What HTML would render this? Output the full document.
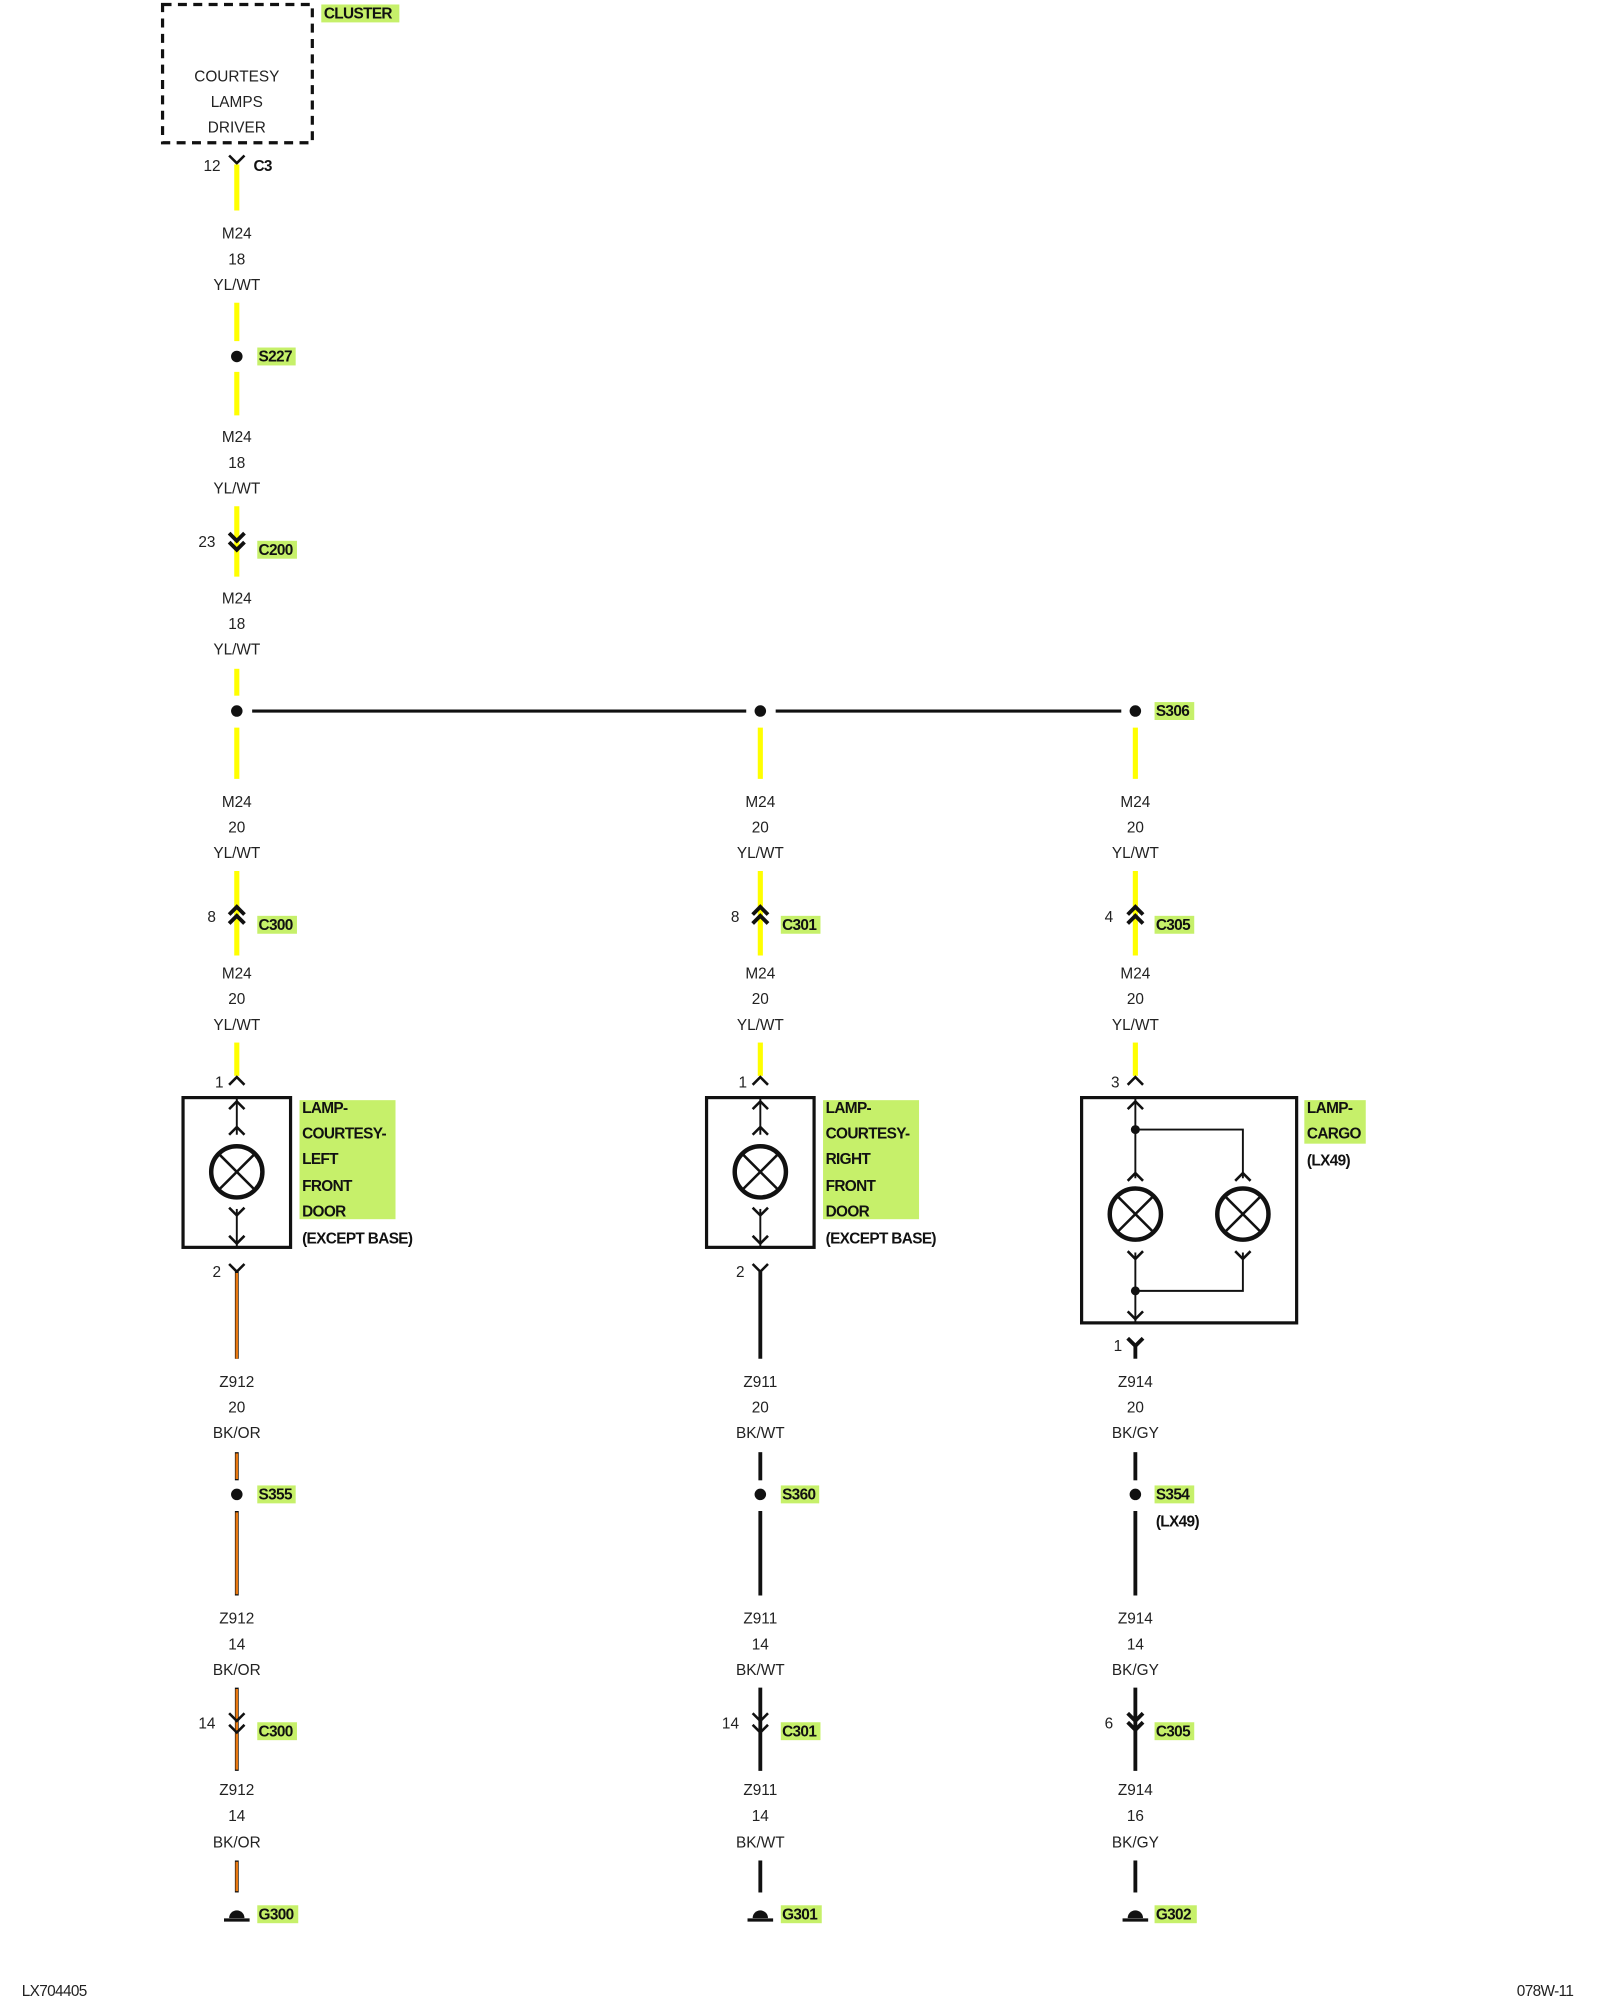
<!DOCTYPE html>
<html><head><meta charset="utf-8"><style>
html,body{margin:0;padding:0;background:#fff;}
svg{display:block;}
.t{font-family:"Liberation Sans",sans-serif;font-size:12px;fill:#222;text-anchor:middle;}
.n{font-family:"Liberation Sans",sans-serif;font-size:12px;fill:#222;}
.b{font-family:"Liberation Sans",sans-serif;font-size:12px;font-weight:bold;fill:#111;letter-spacing:-0.5px;}
.hl{fill:#c6f06a;}
.y{stroke:#ffff00;stroke-width:4;}
.k{stroke:#111;stroke-width:3;}
.o{stroke:#e87810;stroke-width:2;}
.c{stroke:#111;stroke-width:2;fill:none;}
.cb{stroke:#111;stroke-width:3;fill:none;}
</style></head><body>
<svg width="1600" height="2000" viewBox="0 0 1250 1562.5" xmlns="http://www.w3.org/2000/svg">
<defs>
<g id="lamp"><circle cx="0" cy="0" r="20" fill="none" stroke="#111" stroke-width="3.5"/><line x1="-14" y1="-14" x2="14" y2="14" stroke="#111" stroke-width="2"/><line x1="14" y1="-14" x2="-14" y2="14" stroke="#111" stroke-width="2"/></g>
<polyline id="up" points="-6,6 0,0 6,6" class="c"/>
<polyline id="dn" points="-6,-6 0,0 6,-6" class="c"/>
<polyline id="upb" points="-6,6 0,0 6,6" class="cb"/>
<polyline id="dnb" points="-6,-6 0,0 6,-6" class="cb"/>
<g id="gnd"><path d="M-6,0 A6,6 0 0 1 6,0 Z" fill="#111"/><line x1="-10" y1="1.5" x2="10" y2="1.5" stroke="#111" stroke-width="2.5"/></g>
</defs>
<g transform="translate(0,-1.5)">
<!-- cluster -->
<rect x="127" y="5" width="117" height="108" fill="none" stroke="#111" stroke-width="2.5" stroke-dasharray="7,5"/>
<rect class="hl" x="251" y="5" width="61" height="14"/>
<text class="b" x="253" y="16">CLUSTER</text>
<text class="t" x="185" y="65">COURTESY</text>
<text class="t" x="185" y="85">LAMPS</text>
<text class="t" x="185" y="105">DRIVER</text>
<text class="n" x="159" y="135">12</text>
<use href="#dn" x="185" y="129"/>
<text class="b" x="198" y="135">C3</text>

<line class="y" x1="185" y1="130" x2="185" y2="166"/>
<text class="t" x="185" y="188">M24</text><text class="t" x="185" y="208">18</text><text class="t" x="185" y="228">YL/WT</text>
<line class="y" x1="185" y1="238" x2="185" y2="268"/>
<circle cx="185" cy="280" r="4.5" fill="#111"/>
<rect class="hl" x="201" y="273" width="30" height="14"/><text class="b" x="202" y="284">S227</text>
<line class="y" x1="185" y1="292" x2="185" y2="326"/>
<text class="t" x="185" y="347">M24</text><text class="t" x="185" y="367">18</text><text class="t" x="185" y="387">YL/WT</text>
<line class="y" x1="185" y1="397" x2="185" y2="452"/>
<use href="#dnb" x="185" y="424"/><use href="#dnb" x="185" y="431"/>
<text class="n" x="155" y="429">23</text>
<rect class="hl" x="201" y="424" width="31" height="14"/><text class="b" x="202" y="435">C200</text>
<text class="t" x="185" y="473">M24</text><text class="t" x="185" y="493">18</text><text class="t" x="185" y="513">YL/WT</text>
<line class="y" x1="185" y1="524" x2="185" y2="545"/>

<circle cx="185" cy="557" r="4.5" fill="#111"/>
<circle cx="594" cy="557" r="4.5" fill="#111"/>
<circle cx="887" cy="557" r="4.5" fill="#111"/>
<line x1="197" y1="557" x2="583" y2="557" stroke="#111" stroke-width="2.5"/>
<line x1="606" y1="557" x2="876" y2="557" stroke="#111" stroke-width="2.5"/>
<rect class="hl" x="902" y="550" width="31" height="14"/><text class="b" x="903" y="561">S306</text>

<line class="y" x1="185" y1="570" x2="185" y2="610"/>
<line class="y" x1="594" y1="570" x2="594" y2="610"/>
<line class="y" x1="887" y1="570" x2="887" y2="610"/>
<text class="t" x="185" y="632">M24</text><text class="t" x="185" y="652">20</text><text class="t" x="185" y="672">YL/WT</text>
<text class="t" x="594" y="632">M24</text><text class="t" x="594" y="652">20</text><text class="t" x="594" y="672">YL/WT</text>
<text class="t" x="887" y="632">M24</text><text class="t" x="887" y="652">20</text><text class="t" x="887" y="672">YL/WT</text>
<line class="y" x1="185" y1="682" x2="185" y2="748"/>
<line class="y" x1="594" y1="682" x2="594" y2="748"/>
<line class="y" x1="887" y1="682" x2="887" y2="748"/>
<use href="#upb" x="185" y="710"/><use href="#upb" x="185" y="717"/>
<use href="#upb" x="594" y="710"/><use href="#upb" x="594" y="717"/>
<use href="#upb" x="887" y="710"/><use href="#upb" x="887" y="717"/>
<text class="n" x="162" y="722">8</text>
<text class="n" x="571" y="722">8</text>
<text class="n" x="863" y="722">4</text>
<rect class="hl" x="201" y="717" width="31" height="14"/><text class="b" x="202" y="728">C300</text>
<rect class="hl" x="610" y="717" width="31" height="14"/><text class="b" x="611" y="728">C301</text>
<rect class="hl" x="902" y="717" width="31" height="14"/><text class="b" x="903" y="728">C305</text>
<text class="t" x="185" y="766">M24</text><text class="t" x="185" y="786">20</text><text class="t" x="185" y="806">YL/WT</text>
<text class="t" x="594" y="766">M24</text><text class="t" x="594" y="786">20</text><text class="t" x="594" y="806">YL/WT</text>
<text class="t" x="887" y="766">M24</text><text class="t" x="887" y="786">20</text><text class="t" x="887" y="806">YL/WT</text>
<line class="y" x1="185" y1="816" x2="185" y2="842"/>
<line class="y" x1="594" y1="816" x2="594" y2="842"/>
<line class="y" x1="887" y1="816" x2="887" y2="842"/>
<use href="#up" x="185" y="843"/><use href="#up" x="594" y="843"/><use href="#up" x="887" y="843"/>
<text class="n" x="168" y="851">1</text>
<text class="n" x="577" y="851">1</text>
<text class="n" x="868" y="851">3</text>

<!-- left lamp -->
<rect x="143" y="859" width="84" height="117" fill="none" stroke="#111" stroke-width="2.5"/>
<line x1="185" y1="860" x2="185" y2="888" stroke="#111" stroke-width="1.5"/>
<use href="#up" x="185" y="862"/><use href="#up" x="185" y="882"/>
<use href="#lamp" x="185" y="917"/>
<use href="#dn" x="185" y="951"/>
<line x1="185" y1="946" x2="185" y2="975" stroke="#111" stroke-width="1.5"/>
<use href="#dn" x="185" y="973"/>
<rect class="hl" x="234" y="861" width="75" height="93"/>
<text class="b" x="236" y="871">LAMP-</text><text class="b" x="236" y="891">COURTESY-</text><text class="b" x="236" y="911">LEFT</text><text class="b" x="236" y="932">FRONT</text><text class="b" x="236" y="952">DOOR</text>
<text class="b" x="236" y="973">(EXCEPT BASE)</text>

<!-- middle lamp -->
<rect x="552" y="859" width="84" height="117" fill="none" stroke="#111" stroke-width="2.5"/>
<line x1="594" y1="860" x2="594" y2="888" stroke="#111" stroke-width="1.5"/>
<use href="#up" x="594" y="862"/><use href="#up" x="594" y="882"/>
<use href="#lamp" x="594" y="917"/>
<use href="#dn" x="594" y="951"/>
<line x1="594" y1="946" x2="594" y2="975" stroke="#111" stroke-width="1.5"/>
<use href="#dn" x="594" y="973"/>
<rect class="hl" x="643" y="861" width="75" height="93"/>
<text class="b" x="645" y="871">LAMP-</text><text class="b" x="645" y="891">COURTESY-</text><text class="b" x="645" y="911">RIGHT</text><text class="b" x="645" y="932">FRONT</text><text class="b" x="645" y="952">DOOR</text>
<text class="b" x="645" y="973">(EXCEPT BASE)</text>

<!-- cargo lamp -->
<rect x="845" y="859" width="168" height="176" fill="none" stroke="#111" stroke-width="2.5"/>
<line x1="887" y1="860" x2="887" y2="922" stroke="#111" stroke-width="1.5"/>
<use href="#up" x="887" y="862"/><use href="#up" x="887" y="918"/>
<circle cx="887" cy="884" r="3.5" fill="#111"/>
<polyline points="887,884 971,884 971,922" fill="none" stroke="#111" stroke-width="1.5"/>
<use href="#up" x="971" y="918"/>
<use href="#lamp" x="887" y="950"/><use href="#lamp" x="971" y="950"/>
<use href="#dn" x="887" y="985"/><use href="#dn" x="971" y="985"/>
<line x1="887" y1="980" x2="887" y2="1034" stroke="#111" stroke-width="1.5"/>
<polyline points="971,980 971,1010 887,1010" fill="none" stroke="#111" stroke-width="1.5"/>
<circle cx="887" cy="1010" r="3.5" fill="#111"/>
<use href="#dn" x="887" y="1032"/>
<rect class="hl" x="1019" y="861" width="48" height="34"/>
<text class="b" x="1021" y="871">LAMP-</text><text class="b" x="1021" y="891">CARGO</text><text class="b" x="1021" y="912">(LX49)</text>

<use href="#dn" x="185" y="995"/><text class="n" x="166" y="999">2</text>
<use href="#dn" x="594" y="995"/><text class="n" x="575" y="999">2</text>
<use href="#dnb" x="887" y="1053"/><text class="n" x="870" y="1057">1</text>

<line class="k" x1="185" y1="995" x2="185" y2="1063"/><line class="o" x1="185" y1="996" x2="185" y2="1063"/>
<line class="k" x1="185" y1="1136" x2="185" y2="1158"/><line class="o" x1="185" y1="1137" x2="185" y2="1157"/>
<line class="k" x1="185" y1="1182" x2="185" y2="1248"/><line class="o" x1="185" y1="1183" x2="185" y2="1247"/>
<line class="k" x1="185" y1="1320" x2="185" y2="1385"/><line class="o" x1="185" y1="1321" x2="185" y2="1384"/>
<line class="k" x1="185" y1="1455" x2="185" y2="1480"/><line class="o" x1="185" y1="1456" x2="185" y2="1479"/>
<line class="k" x1="594" y1="995" x2="594" y2="1063"/>
<line class="k" x1="594" y1="1136" x2="594" y2="1158"/>
<line class="k" x1="594" y1="1182" x2="594" y2="1248"/>
<line class="k" x1="594" y1="1320" x2="594" y2="1385"/>
<line class="k" x1="594" y1="1455" x2="594" y2="1480"/>
<line class="k" x1="887" y1="1053" x2="887" y2="1063"/>
<line class="k" x1="887" y1="1136" x2="887" y2="1158"/>
<line class="k" x1="887" y1="1182" x2="887" y2="1248"/>
<line class="k" x1="887" y1="1320" x2="887" y2="1385"/>
<line class="k" x1="887" y1="1455" x2="887" y2="1480"/>

<text class="t" x="185" y="1085">Z912</text><text class="t" x="185" y="1105">20</text><text class="t" x="185" y="1125">BK/OR</text>
<text class="t" x="594" y="1085">Z911</text><text class="t" x="594" y="1105">20</text><text class="t" x="594" y="1125">BK/WT</text>
<text class="t" x="887" y="1085">Z914</text><text class="t" x="887" y="1105">20</text><text class="t" x="887" y="1125">BK/GY</text>

<circle cx="185" cy="1169" r="4.5" fill="#111"/>
<circle cx="594" cy="1169" r="4.5" fill="#111"/>
<circle cx="887" cy="1169" r="4.5" fill="#111"/>
<rect class="hl" x="201" y="1162" width="30" height="14"/><text class="b" x="202" y="1173">S355</text>
<rect class="hl" x="610" y="1162" width="30" height="14"/><text class="b" x="611" y="1173">S360</text>
<rect class="hl" x="902" y="1162" width="31" height="14"/><text class="b" x="903" y="1173">S354</text>
<text class="b" x="903" y="1194">(LX49)</text>

<text class="t" x="185" y="1270">Z912</text><text class="t" x="185" y="1290">14</text><text class="t" x="185" y="1310">BK/OR</text>
<text class="t" x="594" y="1270">Z911</text><text class="t" x="594" y="1290">14</text><text class="t" x="594" y="1310">BK/WT</text>
<text class="t" x="887" y="1270">Z914</text><text class="t" x="887" y="1290">14</text><text class="t" x="887" y="1310">BK/GY</text>

<use href="#dn" x="185" y="1346"/><use href="#dn" x="185" y="1355"/>
<use href="#dn" x="594" y="1346"/><use href="#dn" x="594" y="1355"/>
<use href="#dnb" x="887" y="1346"/><use href="#dnb" x="887" y="1353"/>
<text class="n" x="155" y="1352">14</text>
<text class="n" x="564" y="1352">14</text>
<text class="n" x="863" y="1352">6</text>
<rect class="hl" x="201" y="1347" width="31" height="14"/><text class="b" x="202" y="1358">C300</text>
<rect class="hl" x="610" y="1347" width="31" height="14"/><text class="b" x="611" y="1358">C301</text>
<rect class="hl" x="902" y="1347" width="31" height="14"/><text class="b" x="903" y="1358">C305</text>

<text class="t" x="185" y="1404">Z912</text><text class="t" x="185" y="1424">14</text><text class="t" x="185" y="1445">BK/OR</text>
<text class="t" x="594" y="1404">Z911</text><text class="t" x="594" y="1424">14</text><text class="t" x="594" y="1445">BK/WT</text>
<text class="t" x="887" y="1404">Z914</text><text class="t" x="887" y="1424">16</text><text class="t" x="887" y="1445">BK/GY</text>

<use href="#gnd" x="185" y="1500"/><use href="#gnd" x="594" y="1500"/><use href="#gnd" x="887" y="1500"/>
<rect class="hl" x="201" y="1490" width="32" height="14"/><text class="b" x="202" y="1501">G300</text>
<rect class="hl" x="610" y="1490" width="32" height="14"/><text class="b" x="611" y="1501">G301</text>
<rect class="hl" x="902" y="1490" width="33" height="14"/><text class="b" x="903" y="1501">G302</text>

<text class="n" x="17" y="1561" style="letter-spacing:-0.5px">LX704405</text>
<text class="n" x="1185" y="1561" style="letter-spacing:-0.5px">078W-11</text>
</g>
</svg>
</body></html>
